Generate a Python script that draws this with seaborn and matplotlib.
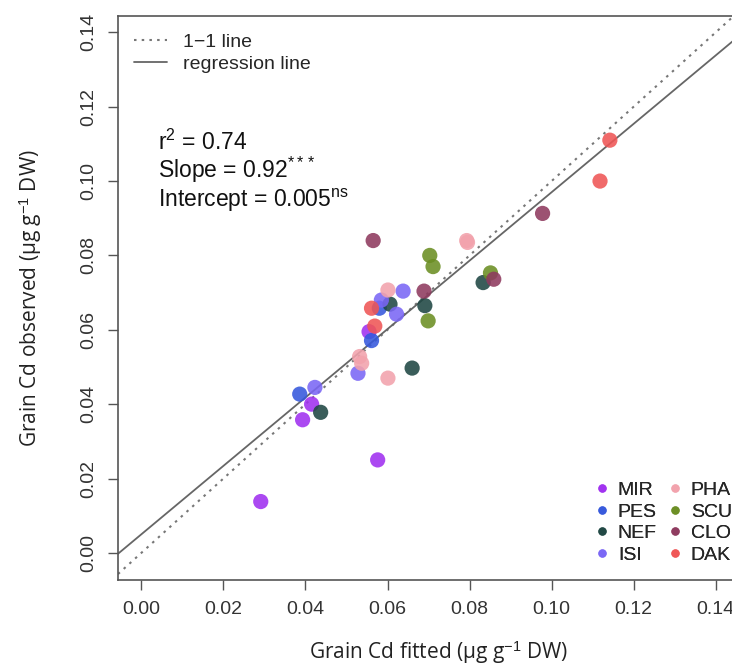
import numpy as np
import pandas as pd
import seaborn as sns
from matplotlib import pyplot as plt
from matplotlib.lines import Line2D

# fitted (x) and observed (y) grain Cd, per site
groups = ['MIR', 'PES', 'NEF', 'ISI', 'PHA', 'SCU', 'CLO', 'DAK']
fitted = {
	'MIR': [0.0291, 0.0576, 0.0393, 0.0415, 0.0555],
	'PES': [0.0386, 0.0580, 0.0561],
	'NEF': [0.0437, 0.0660, 0.0833, 0.0606, 0.0691],
	'ISI': [0.0423, 0.0528, 0.0638, 0.0585, 0.0622],
	'PHA': [0.0601, 0.0793, 0.0795, 0.0601, 0.0532, 0.0537],
	'SCU': [0.0703, 0.0711, 0.0851, 0.0699],
	'CLO': [0.0565, 0.0859, 0.0689, 0.0978],
	'DAK': [0.1142, 0.1118, 0.0561, 0.0569],
}
observed = {
	'MIR': [0.0138, 0.0250, 0.0358, 0.0400, 0.0595],
	'PES': [0.0427, 0.0658, 0.0571],
	'NEF': [0.0378, 0.0497, 0.0727, 0.0669, 0.0665],
	'ISI': [0.0445, 0.0483, 0.0704, 0.0680, 0.0642],
	'PHA': [0.0470, 0.0840, 0.0835, 0.0707, 0.0528, 0.0510],
	'SCU': [0.0800, 0.0770, 0.0753, 0.0624],
	'CLO': [0.0840, 0.0736, 0.0704, 0.0913],
	'DAK': [0.1110, 0.1000, 0.0658, 0.0610],
}
colors = ['#A030F0', '#3558DC', '#1F4743', '#7A66F5',
		  '#F2A2AC', '#6B8E23', '#8E3A5E', '#EF5555']

slope = 0.92
intercept = 0.005
x_ticks = [0.00, 0.02, 0.04, 0.06, 0.08, 0.10, 0.12, 0.14]
y_ticks = [0.00, 0.02, 0.04, 0.06, 0.08, 0.10, 0.12, 0.14]

rows = []
for g in groups:
	for xv, yv in zip(fitted[g], observed[g]):
		rows.append({'site': g, 'fitted': xv, 'observed': yv})
df = pd.DataFrame(rows)

sns.set_style('white')
plt.rcParams['font.family'] = ['Liberation Sans', 'DejaVu Sans']
plt.rcParams['mathtext.fontset'] = 'custom'
plt.rcParams['mathtext.rm'] = 'Liberation Sans'
plt.rcParams['mathtext.it'] = 'Liberation Sans:italic'

fig = plt.figure(figsize=(7.32, 6.69), dpi=100)
ax = fig.add_axes([118 / 732, 89 / 669, 642 / 732, 564 / 669])

# 1-1 and regression lines
ax.axline((0, 0), slope=1, color='#777777', lw=1.5, ls=(0, (1.2, 2.5)), zorder=1)
ax.axline((0, intercept), slope=slope, color='#666666', lw=1.3, zorder=1)

sns.scatterplot(data=df, x='fitted', y='observed', hue='site', hue_order=groups,
				palette=colors, s=120, alpha=0.88, edgecolor='none', ax=ax, zorder=3)

ax.set_xlim(-0.0057, 0.1508)
ax.set_ylim(-0.0073, 0.1444)
ax.set_xticks(x_ticks)
ax.set_yticks(y_ticks)
ax.set_xticklabels([f'{t:.2f}' for t in x_ticks], fontsize=14, color='#333333')
ax.set_yticklabels([f'{t:.2f}' for t in y_ticks], fontsize=14, color='#333333',
				   rotation=90, va='center')
ax.tick_params(axis='both', direction='out', length=7, width=1, color='#555555',
			   bottom=True, left=True, pad=8)
for side in ['left', 'bottom', 'top']:
	ax.spines[side].set_color('#555555')
	ax.spines[side].set_linewidth(1.2)
ax.spines['right'].set_visible(False)

ax.set_xlabel('Grain Cd fitted (µg g$^{-1}$ DW)', fontsize=15, family='Open Sans',
			  color='#222222', labelpad=15)
ax.set_ylabel('Grain Cd observed (µg g$^{-1}$ DW)', fontsize=15, family='Open Sans',
			  color='#222222', labelpad=26)

# site legend, bottom right
handles, labels = ax.get_legend_handles_labels()
site_leg = fig.legend(handles, labels, loc='upper left',
					  bbox_to_anchor=(575 / 732, 1 - 464 / 669), ncol=2,
					  frameon=False, fontsize=14, markerscale=0.55,
					  handletextpad=0.3, columnspacing=0.45, labelspacing=0.2,
					  handlelength=1.0)
ax.get_legend().remove()

# line legend, top left
line_handles = [
	Line2D([], [], color='#777777', lw=1.5, ls=(0, (1.2, 2.5))),
	Line2D([], [], color='#666666', lw=1.3),
]
fig.legend(line_handles, ['1\u22121 line', 'regression line'], loc='upper left',
		   bbox_to_anchor=(116 / 732, 1 - 16 / 669), frameon=False, fontsize=14,
		   handlelength=1.7, handletextpad=0.85, labelspacing=0.2)
fig.add_artist(site_leg)

ax.text(0.004, 0.1083, 'r$^{2}$ = 0.74', fontsize=16.5, color='#111111')
ax.text(0.004, 0.1008, 'Slope = 0.92$^{***}$', fontsize=16.5, color='#111111')
ax.text(0.004, 0.0930, 'Intercept = 0.005$^{\\mathrm{ns}}$', fontsize=16.5, color='#111111')

plt.savefig('out.png', dpi=100)
